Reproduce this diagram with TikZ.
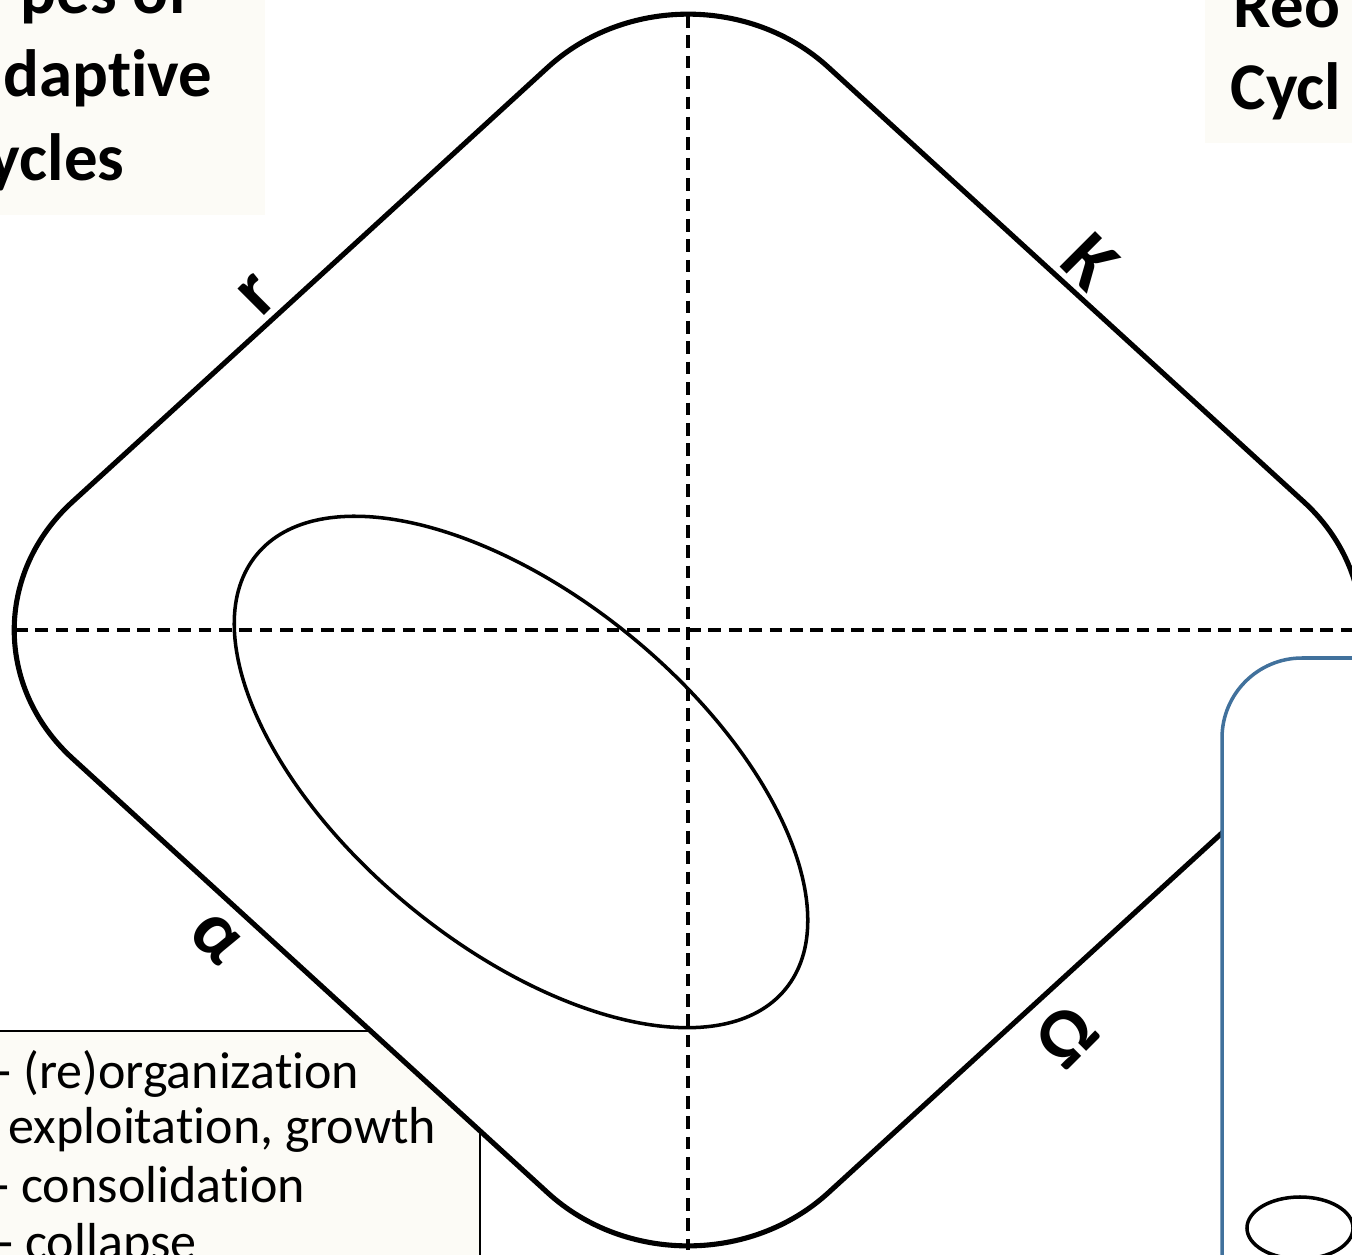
\documentclass[tikz,border=0pt]{standalone}
\usepackage{fontspec}
\setmainfont{Carlito}[Ligatures=NoCommon]

\definecolor{cream}{RGB}{252,251,246}
\definecolor{boxblue}{RGB}{65,113,156}

\begin{document}
\begin{tikzpicture}[x=0.01cm, y=-0.01cm,
    diamondline/.style={line width=1.45pt, line join=round},
    axisline/.style={line width=0.95pt, dash pattern=on 3.6pt off 2.2pt},
    phase/.style={font=\fontsize{22}{26}\selectfont\bfseries, inner sep=0pt},
    title/.style={font=\fontsize{19}{23}\selectfont\bfseries, inner sep=0pt},
    legend/.style={font=\fontsize{14.8}{17}\selectfont, inner sep=0pt, anchor=base west}]
                \useasboundingbox (0,0) rectangle (1352,1255);
                \clip (0,0) rectangle (1352,1255);

                % title panels
                \fill[cream] (0,0) rectangle (265,215);
                \fill[cream] (1205,0) rectangle (1352,143);
                \node[title, anchor=base east] (titleA) at (190,14) {pes of};
                \node[title, anchor=base east] (titleB) at (213,97) {daptive};
                \node[title, anchor=base east] (titleC) at (125,181) {ycles};
                \node[title, anchor=base west] (titleD) at (1233,28) {Reo};
                \node[title, anchor=base west] (titleE) at (1230,110) {Cycl};

                % legend box
                \draw[line width=0.8pt, fill=cream] (-10,1031) rectangle (480,1300);

                % adaptive cycle
                \coordinate (start) at (310,285);
                \coordinate (top) at (688,-61);
                \coordinate (right) at (1444,630);
                \coordinate (bottom) at (688,1321);
                \coordinate (left) at (-68,630);
                \draw[diamondline, fill=white, rounded corners=1.9cm]
                    (start) -- (top) -- (right) -- (bottom) -- (left) -- cycle;

                % legend text
                \node[legend] (legA) at (-5,1088) {- (re)organization};
                \node[legend] (legB) at (8,1143) {exploitation, growth};
                \node[legend] (legC) at (-7,1202) {- consolidation};
                \node[legend] (legD) at (-3,1259) {- collapse};

                % axes
                \coordinate (ntop) at (688,15);
                \coordinate (nbot) at (688,1250);
                \coordinate (nleft) at (15,630);
                \coordinate (nright) at (1360,630);
                \draw[axisline] (ntop) -- (nbot);
                \draw[axisline] (nleft) -- (nright);

                % inner cycle
                \coordinate (ec) at (521,772);
                \draw[line width=1pt, rotate around={-39.4:(ec)}] (ec) ellipse [x radius=3.42cm, y radius=1.745cm];

                % phase labels
                \node[phase, rotate=45] (r) at (258,295) {r};
                \node[phase, rotate=-45] (K) at (1090,262) {K};
                \node[phase, rotate=-45] (alpha) at (216,938) {α};
                \node[phase, rotate=45] (omega) at (1066,1036) {Ω};

                % side panel
                \draw[boxblue, line width=1pt, fill=white, rounded corners=0.8cm] (1222,658) rectangle (1500,1400);
                \coordinate (sc) at (1300,1228);
                \draw[line width=1pt] (sc) ellipse [x radius=0.53cm, y radius=0.31cm];
            \end{tikzpicture}
\end{document}
